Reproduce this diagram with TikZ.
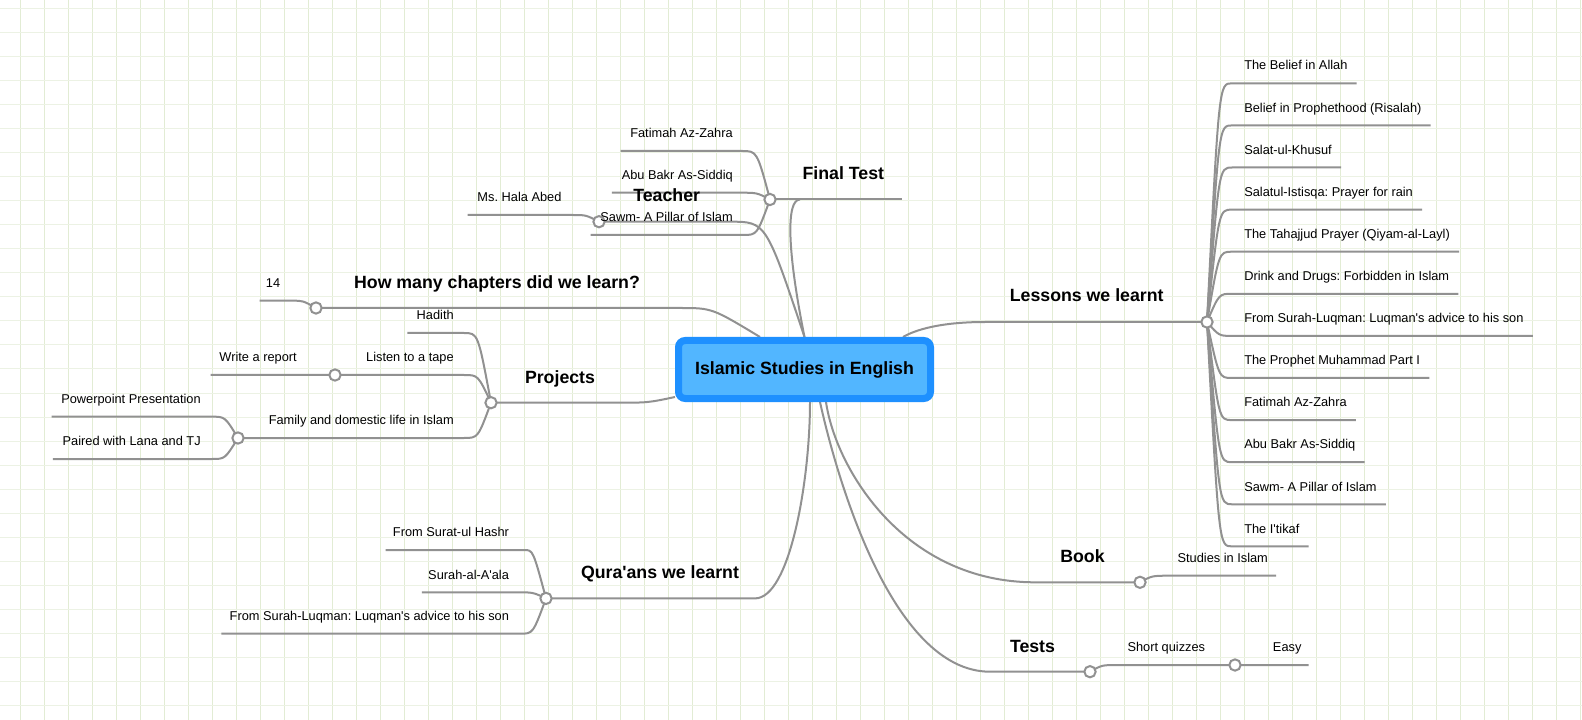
\documentclass[tikz,border=0pt]{standalone}
\usepackage{fontspec}
\setmainfont{Liberation Sans}
\usetikzlibrary{calc,backgrounds}
\frenchspacing

\definecolor{wire}{RGB}{145,145,145}
\definecolor{gridv}{RGB}{226,236,212}
\definecolor{gridh}{RGB}{236,242,228}
\definecolor{rootedge}{RGB}{30,144,255}
\definecolor{rootfill}{RGB}{82,182,255}

\begin{document}
\begin{tikzpicture}[x=0.75pt, y=-0.75pt,
  branch/.style={draw=wire, line width=1.5pt},
  knob/.style={circle, draw=wire, fill=white, line width=1.5pt, minimum size=8.5pt, inner sep=0pt},
  topic/.style={anchor=base, inner sep=0pt, font=\fontsize{13.3}{16}\selectfont\bfseries},
  leafL/.style={anchor=base east, inner sep=0pt, font=\fontsize{9.6}{11.5}\selectfont},
  leafR/.style={anchor=base west, inner sep=0pt, font=\fontsize{9.6}{11.5}\selectfont},
  kidL/.style={to path={.. controls ($(\tikztostart |- \tikztotarget)+(-13,0)$) .. (\tikztotarget)}},
  kidR/.style={to path={.. controls ($(\tikztostart |- \tikztotarget)+(12,0)$) .. (\tikztotarget)}},
  rootbox/.style={rectangle, rounded corners=5pt, draw=rootedge, line width=5.25pt, fill=rootfill,
    minimum width=189pt, minimum height=43.5pt, inner sep=0pt, font=\fontsize{13.3}{16}\selectfont\bfseries}]

  \useasboundingbox (0,0) rectangle (1582,720);

  \node[rootbox] (root) at (804.5,369.5) {Islamic Studies in English};

  % main topics
  \node[topic] (ft) at (843.3,179.5) {Final Test};
  \node[topic] (tc) at (666.7,202) {Teacher};
  \node[topic] (hm) at (497,288.5) {How many chapters did we learn?};
  \node[topic] (pr) at (560,383) {Projects};
  \node[topic] (ls) at (1086.7,301.7) {Lessons we learnt};
  \node[topic] (bk) at (1082.5,562.3) {Book};
  \node[topic] (ts) at (1032.5,652) {Tests};
  \node[topic] (qr) at (660,578.4) {Qura\textquotesingle ans we learnt};

  \node[knob] (ftk) at (770,199.5) {};
  \node[knob] (tck) at (599,221.7) {};
  \node[knob] (hmk) at (316,308) {};
  \node[knob] (prk) at (491,402.7) {};
  \node[knob] (wrk) at (335,375) {};
  \node[knob] (fmk) at (238,438) {};
  \node[knob] (qrk) at (546,598.4) {};
  \node[knob] (lsk) at (1207,322) {};
  \node[knob] (bkk) at (1140,582.3) {};
  \node[knob] (tsk) at (1090,671.7) {};
  \node[knob] (sqk) at (1235,665) {};

  % left side
  \node[leafL] (ft1) at (733,137.7) {Fatimah Az-Zahra};
  \node[leafL] (ft2) at (733,179.4) {Abu Bakr As-Siddiq};
  \node[leafL] (ft3) at (733,221.7) {Sawm- A Pillar of Islam};
  \node[leafL] (tc1) at (561.7,201.7) {Ms. Hala Abed};
  \node[leafL] (hm1) at (280.4,287.4) {14};
  \node[leafL] (pr1) at (454,319.7) {Hadith};
  \node[leafL] (pr2) at (454,361.7) {Listen to a tape};
  \node[leafL] (pr3) at (454,424.7) {Family and domestic life in Islam};
  \node[leafL] (wr1) at (297,361.7) {Write a report};
  \node[leafL] (fm1) at (201,403.4) {Powerpoint Presentation};
  \node[leafL] (fm2) at (201,445.7) {Paired with Lana and TJ};
  \node[leafL] (qr1) at (509.2,536.7) {From Surat-ul Hashr};
  \node[leafL] (qr2) at (509.2,579) {Surah-al-A\textquotesingle ala};
  \node[leafL] (qr3) at (509.2,620.4) {From Surah-Luqman: Luqman\textquotesingle s advice to his son};

  % right side
  \node[leafR] (ls1) at (1244,70) {The Belief in Allah};
  \node[leafR] (ls2) at (1244,112.1) {Belief in Prophethood (Risalah)};
  \node[leafR] (ls3) at (1244,154.2) {Salat-ul-Khusuf};
  \node[leafR] (ls4) at (1244,196.3) {Salatul-Istisqa: Prayer for rain};
  \node[leafR] (ls5) at (1244,238.4) {The Tahajjud Prayer (Qiyam-al-Layl)};
  \node[leafR] (ls6) at (1244,280.5) {Drink and Drugs: Forbidden in Islam};
  \node[leafR] (ls7) at (1244,322.6) {From Surah-Luqman: Luqman\textquotesingle s advice to his son};
  \node[leafR] (ls8) at (1244,364.7) {The Prophet Muhammad Part I};
  \node[leafR] (ls9) at (1244,406.8) {Fatimah Az-Zahra};
  \node[leafR] (ls10) at (1244,448.9) {Abu Bakr As-Siddiq};
  \node[leafR] (ls11) at (1244,491) {Sawm- A Pillar of Islam};
  \node[leafR] (ls12) at (1244,533.1) {The I\textquotesingle tikaf};
  \node[leafR] (bk1) at (1177.3,562.4) {Studies in Islam};
  \node[leafR] (ts1) at (1127.3,651.7) {Short quizzes};
  \node[leafR] (sq1) at (1272.7,651.7) {Easy};

  \coordinate (ftj) at (800,199.5);
  \coordinate (fte) at (901.7,199.5);
  \coordinate (tcj) at (730,221.7);
  \coordinate (hmj) at (680,308);
  \coordinate (prj) at (617,402.7);
  \coordinate (lsj) at (985,322);
  \coordinate (bkj) at (1035,582.3);
  \coordinate (tsj) at (990,671.7);
  \coordinate (qrj) at (755,598.4);

  \begin{pgfonlayer}{background}
    \fill[white] (0,0) rectangle (1582,720);
    \foreach \gx in {20,44,...,1580} \draw[gridv, line width=0.75pt] (\gx,0) -- (\gx,720);
    \foreach \gy in {9,33,...,705} \draw[gridh, line width=0.75pt] (0,\gy) -- (1582,\gy);

    % centre to topics
    \draw[branch] (root.north) .. controls (787,250) and (786,199.5) .. (ftj);
    \draw[branch] (ftk.center) -- (fte);
    \draw[branch] (root.north) .. controls (766,221.7) .. (tcj) -- (tck.center);
    \draw[branch] ($(root.north)+(-44.5,0)$) .. controls (712,308) .. (hmj) -- (hmk.center);
    \draw[branch] ($(root.south west)+(0,-5)$) .. controls (648,402.7) .. (prj) -- (prk.center);
    \draw[branch] ($(root.north east)+(-31,0)$) .. controls (915,330) and (940,322) .. (lsj) -- (lsk.center);
    \draw[branch] ($(root.south)+(21.5,0)$) .. controls (836,470) and (905,582.3) .. (bkj) -- (bkk.center);
    \draw[branch] ($(root.south)+(15.5,0)$) .. controls (835,470) and (890,671.7) .. (tsj) -- (tsk.center);
    \draw[branch] ($(root.south)+(5.5,0)$) .. controls (810,480) and (790,598.4) .. (qrj) -- (qrk.center);

    % topics to leaves
    \draw[branch] (ftk.center) to[kidL] ($(ft1.base east)+(9,13.3)$) -- ($(ft1.base west)+(-9.5,13.3)$);
    \draw[branch] (ftk.center) to[kidL] ($(ft2.base east)+(7,13.3)$) -- ($(ft2.base west)+(-9.5,13.3)$);
    \draw[branch] (ftk.center) to[kidL] ($(ft3.base east)+(10,13.3)$) -- ($(ft3.base west)+(-9.5,13.3)$);
    \draw[branch] (tck.center) to[kidL] ($(tc1.base east)+(11,13.3)$) -- ($(tc1.base west)+(-9.5,13.3)$);
    \draw[branch] (hmk.center) to[kidL] ($(hm1.base east)+(12,13.3)$) -- ($(hm1.base west)+(-6,13.3)$);
    \draw[branch] (prk.center) to[kidL] ($(pr1.base east)+(10,13.3)$) -- ($(pr1.base west)+(-9,13.3)$);
    \draw[branch] (prk.center) to[kidL] ($(pr2.base east)+(10,13.3)$) -- (wrk.center);
    \draw[branch] (wrk.center) -- ($(wr1.base west)+(-8.5,13.3)$);
    \draw[branch] (prk.center) to[kidL] ($(pr3.base east)+(10,13.3)$) -- (fmk.center);
    \draw[branch] (fmk.center) to[kidL] ($(fm1.base east)+(11,13.3)$) -- ($(fm1.base west)+(-9.5,13.3)$);
    \draw[branch] (fmk.center) to[kidL] ($(fm2.base east)+(11,13.3)$) -- ($(fm2.base west)+(-9.5,13.3)$);
    \draw[branch] (qrk.center) to[kidL] ($(qr1.base east)+(15,13.3)$) -- ($(qr1.base west)+(-7,13.3)$);
    \draw[branch] (qrk.center) to[kidL] ($(qr2.base east)+(8,13.3)$) -- ($(qr2.base west)+(-6,13.3)$);
    \draw[branch] (qrk.center) to[kidL] ($(qr3.base east)+(11,13.3)$) -- ($(qr3.base west)+(-8,13.3)$);

    \draw[branch] (lsk.center) to[kidR] ($(ls1.base west)+(-12,13.3)$) -- ($(ls1.base east)+(9,13.3)$);
    \draw[branch] (lsk.center) to[kidR] ($(ls2.base west)+(-12,13.3)$) -- ($(ls2.base east)+(9,13.3)$);
    \draw[branch] (lsk.center) to[kidR] ($(ls3.base west)+(-12,13.3)$) -- ($(ls3.base east)+(9,13.3)$);
    \draw[branch] (lsk.center) to[kidR] ($(ls4.base west)+(-12,13.3)$) -- ($(ls4.base east)+(9,13.3)$);
    \draw[branch] (lsk.center) to[kidR] ($(ls5.base west)+(-12,13.3)$) -- ($(ls5.base east)+(9,13.3)$);
    \draw[branch] (lsk.center) to[kidR] ($(ls6.base west)+(-12,13.3)$) -- ($(ls6.base east)+(9,13.3)$);
    \draw[branch] (lsk.center) to[kidR] ($(ls7.base west)+(-12,13.3)$) -- ($(ls7.base east)+(9,13.3)$);
    \draw[branch] (lsk.center) to[kidR] ($(ls8.base west)+(-12,13.3)$) -- ($(ls8.base east)+(9,13.3)$);
    \draw[branch] (lsk.center) to[kidR] ($(ls9.base west)+(-12,13.3)$) -- ($(ls9.base east)+(9,13.3)$);
    \draw[branch] (lsk.center) to[kidR] ($(ls10.base west)+(-12,13.3)$) -- ($(ls10.base east)+(9,13.3)$);
    \draw[branch] (lsk.center) to[kidR] ($(ls11.base west)+(-12,13.3)$) -- ($(ls11.base east)+(9,13.3)$);
    \draw[branch] (lsk.center) to[kidR] ($(ls12.base west)+(-12,13.3)$) -- ($(ls12.base east)+(9,13.3)$);
    \draw[branch] (bkk.center) to[kidR] ($(bk1.base west)+(-7,13.3)$) -- ($(bk1.base east)+(8,13.3)$);
    \draw[branch] (tsk.center) to[kidR] ($(ts1.base west)+(-9,13.3)$) -- (sqk.center);
    \draw[branch] (sqk.center) -- ($(sq1.base east)+(7,13.3)$);
  \end{pgfonlayer}

\end{tikzpicture}
\end{document}
